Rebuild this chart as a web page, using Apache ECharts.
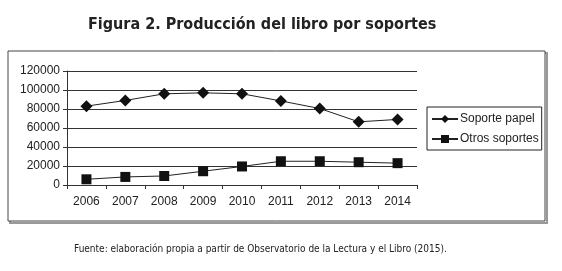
<!DOCTYPE html>
<html>
<head>
<meta charset="utf-8">
<script src="https://cdn.jsdelivr.net/npm/echarts@6/dist/echarts.min.js"></script>
<style>
  html, body { margin: 0; padding: 0; background: #fff; }
  #chart { width: 562px; height: 271px; }
</style>
</head>
<body>
<div id="chart"></div>
<script>
const years = ['2006', '2007', '2008', '2009', '2010', '2011', '2012', '2013', '2014'];
const soportePapel = [83000, 89000, 96000, 97000, 96000, 88500, 80500, 66500, 69000];
const otrosSoportes = [6000, 8500, 9500, 14500, 19500, 25000, 25000, 24000, 23000];
const yTicks = [0, 20000, 40000, 60000, 80000, 100000, 120000];

const chart = echarts.init(document.getElementById('chart'));

const condensed = 'DejaVu Sans Condensed, Liberation Sans Narrow, sans-serif';
const axisText = { color: '#222', fontSize: 12, fontFamily: 'Liberation Sans, Arial, sans-serif' };

const option = {
  backgroundColor: '#fff',
  animation: false,
  title: {
    text: 'Figura 2. Producción del libro por soportes',
    left: 83,
    top: 12,
    textStyle: {
      color: '#222',
      fontSize: 16,
      fontWeight: 'bold',
      fontFamily: condensed
    }
  },
  graphic: [
    {
      type: 'rect',
      shape: { x: 10, y: 53, width: 537, height: 170 },
      style: { fill: 'none', stroke: '#999', lineWidth: 2 },
      z: -2
    },
    {
      type: 'rect',
      shape: { x: 8, y: 51, width: 537, height: 170 },
      style: { fill: '#fff', stroke: '#444', lineWidth: 1 },
      z: -1
    },
    {
      type: 'text',
      left: 74,
      top: 244,
      style: {
        text: 'Fuente: elaboración propia a partir de Observatorio de la Lectura y el Libro (2015).',
        fill: '#222',
        fontSize: 10,
        fontFamily: condensed
      }
    }
  ],
  legend: {
    orient: 'vertical',
    left: 427,
    top: 107,
    padding: [6, 3, 5, 4],
    itemGap: 8,
    itemWidth: 26,
    itemHeight: 10,
    borderColor: '#222',
    borderWidth: 1,
    textStyle: { color: '#222', fontSize: 12, fontFamily: 'Liberation Sans, Arial, sans-serif', padding: [0, 0, 0, -3] },
    data: ['Soporte papel', 'Otros soportes']
  },
  grid: {
    left: 67,
    right: 145,
    top: 71,
    bottom: 86
  },
  xAxis: {
    type: 'category',
    data: years,
    boundaryGap: true,
    axisLine: { lineStyle: { color: '#333', width: 1 } },
    axisTick: { show: true, length: 4, lineStyle: { color: '#333' } },
    axisLabel: Object.assign({ margin: 11 }, axisText),
    splitLine: { show: false }
  },
  yAxis: {
    type: 'value',
    min: yTicks[0],
    max: yTicks[yTicks.length - 1],
    interval: 20000,
    axisLine: { show: true, lineStyle: { color: '#333', width: 1 } },
    axisTick: { show: true, length: 4, lineStyle: { color: '#333' } },
    axisLabel: Object.assign({ margin: 7, formatter: v => String(v) }, axisText),
    splitLine: { lineStyle: { color: '#333', width: 1 } }
  },
  series: [
    {
      name: 'Soporte papel',
      type: 'line',
      data: soportePapel,
      symbol: 'diamond',
      symbolSize: 12,
      lineStyle: { color: '#222', width: 1 },
      itemStyle: { color: '#111' }
    },
    {
      name: 'Otros soportes',
      type: 'line',
      data: otrosSoportes,
      symbol: 'rect',
      symbolSize: 10,
      lineStyle: { color: '#222', width: 1 },
      itemStyle: { color: '#111' }
    }
  ]
};

chart.setOption(option);
</script>
</body>
</html>
